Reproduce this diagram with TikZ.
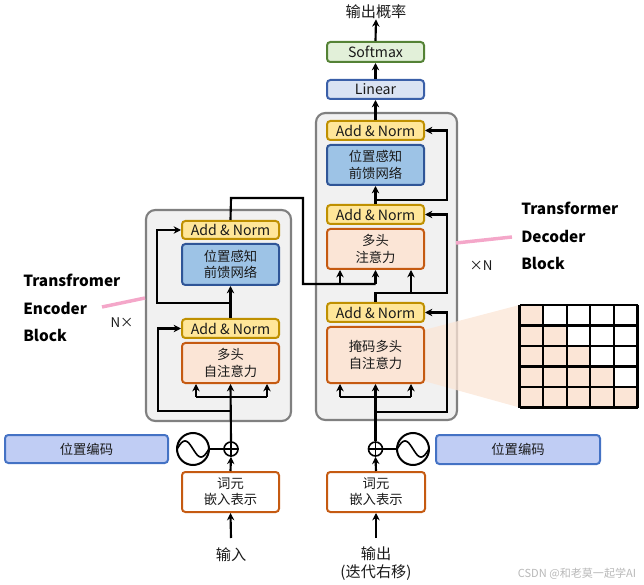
\documentclass[tikz,border=0pt]{standalone}
\usepackage{fontspec}
\setmainfont{Noto Sans CJK SC}
\usetikzlibrary{arrows.meta}
\definecolor{anfill}{HTML}{FFE699}
\definecolor{anline}{HTML}{BF9000}
\definecolor{ffnfill}{HTML}{9DC3E6}
\definecolor{ffnline}{HTML}{2F5597}
\definecolor{attfill}{HTML}{FBE5D6}
\definecolor{attline}{HTML}{C55A11}
\definecolor{linfill}{HTML}{DAE3F3}
\definecolor{linline}{HTML}{3A5FA8}
\definecolor{smfill}{HTML}{E2F0D9}
\definecolor{smline}{HTML}{548235}
\definecolor{posfill}{HTML}{C0CDF4}
\definecolor{posline}{HTML}{4472C4}
\definecolor{blkfill}{HTML}{F1F1F1}
\definecolor{blkline}{HTML}{808080}
\definecolor{pinkln}{HTML}{F4A7C9}
\definecolor{txt}{HTML}{1A1A1A}
\begin{document}
\begin{tikzpicture}[x=0.75pt,y=-0.75pt,
  bx/.style n args={2}{minimum width=#1*0.75pt, minimum height=#2*0.75pt, inner sep=0pt},
  boxbase/.style={draw, line width=1.5pt, rounded corners=2.5pt, align=center, text=txt,
    font=\fontsize{10pt}{12.2pt}\selectfont},
  anbox/.style={boxbase, fill=anfill, draw=anline, font=\fontsize{10.6pt}{12pt}\selectfont},
  ffnbox/.style={boxbase, fill=ffnfill, draw=ffnline},
  attbox/.style={boxbase, fill=attfill, draw=attline},
  embbox/.style={boxbase, fill=white, draw=attline},
  linbox/.style={boxbase, fill=linfill, draw=linline, font=\fontsize{10.6pt}{12pt}\selectfont},
  smbox/.style={boxbase, fill=smfill, draw=smline, font=\fontsize{10.6pt}{12pt}\selectfont},
  posbox/.style={boxbase, fill=posfill, draw=posline, font=\fontsize{10pt}{12pt}\selectfont},
  blk/.style={fill=blkfill, draw=blkline, line width=1.6pt, rounded corners=7pt},
  ln/.style={line width=1.6pt, draw=black},
  arr/.style={ln, -{Stealth[length=5.5pt,width=5.5pt]}},
  plusc/.style={circle, draw, line width=1.2pt, fill=white, minimum size=14*0.75pt, inner sep=0pt},
  sinc/.style={circle, draw, line width=1.5pt, fill=white, minimum size=32*0.75pt, inner sep=0pt},
  lbl/.style={font=\fontsize{11.5pt}{20.6pt}\selectfont\bfseries, align=left, anchor=west, inner sep=0pt},
  plaintxt/.style={text=txt, inner sep=0pt, align=center},
]
\useasboundingbox (0,0) rectangle (644,585);

% ---------- blocks ----------
\path[blk] (146,210) rectangle (291,421);
\path[blk] (316,113) rectangle (457,420);

% zoom cone
\fill[attfill, opacity=0.75] (424,330) -- (519.5,305) -- (519.5,407.5) -- (424,381) -- cycle;

% ---------- encoder nodes ----------
\node[anbox, bx={97}{18}] (eAN2) at (230.5,230) {Add \& Norm};
\node[ffnbox, bx={97}{41}] (eFFN) at (230.5,264.5) {位置感知\\前馈网络};
\node[anbox, bx={97}{19}] (eAN1) at (230.5,328.5) {Add \& Norm};
\node[attbox, bx={97}{40}] (eATT) at (230.5,363) {多头\\自注意力};
\node[embbox, bx={97}{40}] (eEmb) at (230.5,492) {词元\\嵌入表示};
\node[posbox, bx={163}{28}] (ePos) at (86.5,449) {位置编码};
\node[sinc] (eSin) at (193,449) {};
\node[plusc] (ePlus) at (231,449) {};
\node[plaintxt, font=\fontsize{11.4pt}{13.5pt}\selectfont] (inTxt) at (231,555) {输入};

% ---------- decoder nodes ----------
\node[anbox, bx={97}{19}] (dAN3) at (375.5,130.5) {Add \& Norm};
\node[ffnbox, bx={97}{40}] (dFFN) at (375.5,165) {位置感知\\前馈网络};
\node[anbox, bx={97}{19}] (dAN2) at (375.5,214.5) {Add \& Norm};
\node[attbox, bx={97}{40}] (dATT2) at (375.5,249) {多头\\注意力};
\node[anbox, bx={97}{19}] (dAN1) at (375.5,312.5) {Add \& Norm};
\node[attbox, bx={97}{56}] (dATT1) at (375.5,355) {掩码多头\\自注意力};
\node[linbox, bx={97}{19}] (dLin) at (375.5,89.5) {Linear};
\node[smbox, bx={97}{20}] (dSm) at (375.5,52) {Softmax};
\node[plaintxt, font=\fontsize{11.4pt}{13.5pt}\selectfont] (outP) at (376,12) {输出概率};
\node[embbox, bx={98}{40}] (dEmb) at (376,492) {词元\\嵌入表示};
\node[posbox, bx={164}{29}] (dPos) at (518,449.5) {位置编码};
\node[sinc] (dSin) at (413,449) {};
\node[plusc] (dPlus) at (375.5,449) {};
\node[plaintxt, font=\fontsize{11.4pt}{13.5pt}\selectfont] (outTxt) at (376,564) {输出\\(迭代右移)};

% ---------- sine and plus symbols ----------
\foreach \s in {eSin,dSin}{
  \draw[line width=1.2pt, shift={(\s.center)}] plot[domain=-16:16, samples=50, smooth] (\x, {-8*sin(180*(\x+16)/16)});
}
\foreach \p in {ePlus,dPlus}{
  \draw[line width=1.1pt] (\p.west) -- (\p.east) (\p.north) -- (\p.south);
}
\draw[ln] (eSin.east) -- (ePlus.west);
\draw[ln] (dPlus.east) -- (dSin.west);

% ---------- encoder connectors ----------
\coordinate (inS) at (231,538);
\draw[arr] (inS) -- (eEmb.south);
\draw[arr] (eEmb.north) -- (ePlus.south);
\draw[arr] (ePlus.north) -- (eATT.south);
\coordinate (eL) at (196,397);
\coordinate (eR) at (267,397);
\draw[ln] (eL) -- (eR);
\draw[arr] (eL) -- (eL |- eATT.south);
\draw[arr] (eR) -- (eR |- eATT.south);
\coordinate (eRes1) at (158,411);
\draw[arr] (eRes1 -| ePlus) -- (eRes1) |- (eAN1.west);
\draw[arr] (eAN1.north) -- (eFFN.south);
\coordinate (eRes2) at (157,303);
\draw[arr] (eRes2 -| eFFN) -- (eRes2) |- (eAN2.west);
\coordinate (c1) at (231,198);
\coordinate (c2) at (303,198);
\coordinate (c3) at (303,284);
\draw[ln] (eAN2.north) -- (c1) -- (c2) -- (c3) -- (c3 -| dATT2);
\coordinate (dL2) at (340,284);
\draw[arr] (dL2) -- (dL2 |- dATT2.south);
\draw[arr] (c3 -| dATT2) -- (dATT2.south);

% ---------- decoder connectors ----------
\coordinate (outS) at (376,538);
\draw[arr] (outS) -- (dEmb.south);
\draw[arr] (dEmb.north) -- (dPlus.south);
\draw[arr] (dPlus.north) -- (dATT1.south);
\coordinate (dL1) at (340,397);
\coordinate (dR1) at (411,397);
\draw[ln] (dL1) -- (dR1);
\draw[arr] (dL1) -- (dL1 |- dATT1.south);
\draw[arr] (dR1) -- (dR1 |- dATT1.south);
\coordinate (dRes1) at (447,412);
\draw[arr] (dRes1 -| dPlus) -- (dRes1) |- (dAN1.east);
\coordinate (dJ) at (447,293);
\coordinate (dR2) at (411,293);
\draw[arr] (dAN1.north) -- (dAN1.north |- dJ) -- (dJ) |- (dAN2.east);
\draw[arr] (dR2) -- (dR2 |- dATT2.south);
\coordinate (dRes3) at (447,200);
\draw[arr] (dAN2.north) -- (dFFN.south);
\draw[arr] (dAN2.north |- dRes3) -- (dRes3) |- (dAN3.east);
\draw[arr] (dAN3.north) -- (dLin.south);
\draw[arr] (dLin.north) -- (dSm.south);
\draw[arr] (dSm.north) -- (outP.south);

% ---------- mask grid ----------
\foreach \i in {0,...,4}{
  \foreach \j in {0,...,\i}{
    \fill[attfill] (519.5+\j*23.6, 305+\i*20.5) rectangle ++(23.6,20.5);
  }
}
\foreach \k in {0,...,5}{
  \draw[line width=1.6pt] (519.5+\k*23.6,305) -- (519.5+\k*23.6,407.5);
  \draw[line width=1.6pt] (519.5,305+\k*20.5) -- (637.5,305+\k*20.5);
}

% ---------- labels ----------
\node[lbl] (encLbl) at (23,308) {Transfromer\\Encoder\\Block};
\node[lbl] (decLbl) at (521,236) {Transformer\\Decoder\\Block};
\draw[pinkln, line width=2.6pt] (102,307) -- (145,298);
\draw[pinkln, line width=2.6pt] (456,243) -- (512,237);
\node[plaintxt, font=\fontsize{10pt}{12pt}\selectfont] (encN) at (122,323) {N×};
\node[plaintxt, font=\fontsize{10pt}{12pt}\selectfont] (decN) at (481,266) {×N};
\node[plaintxt, text=black!28, font=\fontsize{8.3pt}{10pt}\selectfont] (wm) at (577,574) {CSDN @和老莫一起学AI};
\end{tikzpicture}
\end{document}
